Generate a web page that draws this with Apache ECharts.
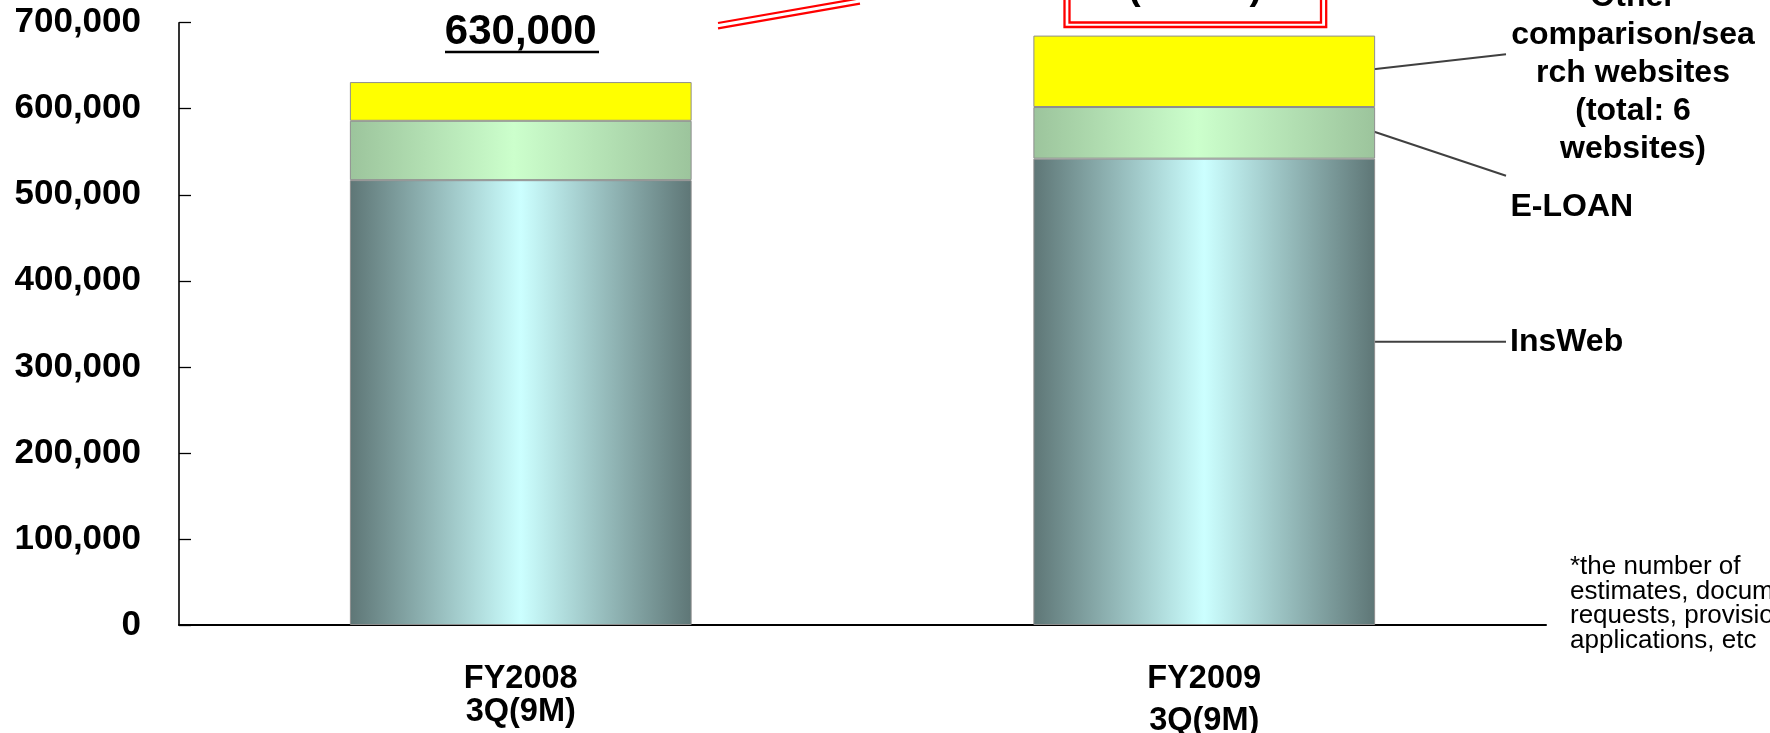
<!DOCTYPE html>
<html><head><meta charset="utf-8">
<script src="https://cdn.jsdelivr.net/npm/echarts@6/dist/echarts.min.js"></script>
<style>html,body{margin:0;padding:0;background:#fff}#c{width:1770px;height:733px}</style>
</head><body><div id="c"></div>
<script>
// ---- data ----
const categoryYears = ['FY2008', 'FY2009'];
const categoryPeriods = ['3Q(9M)', '3Q(9M)'];
const insWeb = [517000, 542000];
const eLoan = [69000, 60000];
const others = [45000, 83000];
const yMin = 0, yMax = 700000, yInterval = 100000;
const seriesNames = ['InsWeb', 'E-LOAN', 'Other comparison/search websites (total: 6 websites)'];
const otherLabelLines = ['Other', 'comparison/sea', 'rch websites', '(total: 6', 'websites)'];
const growthLabel = '(+8.7%)';
const footnoteLines = ['*the number of', 'estimates, documents', 'requests, provisional', 'applications, etc'];

const FONT = "'Liberation Sans', Arial, sans-serif";
const chart = echarts.init(document.getElementById('c'), null, {renderer: 'canvas'});

function fmt(v) { return v.toLocaleString('en-US'); }
const totals = insWeb.map((v, i) => v + eLoan[i] + others[i]);

const gradIns = new echarts.graphic.LinearGradient(0, 0, 1, 0, [
  {offset: 0, color: '#5e7676'}, {offset: 0.5, color: '#ccffff'}, {offset: 1, color: '#5e7676'}
]);
const gradE = new echarts.graphic.LinearGradient(0, 0, 1, 0, [
  {offset: 0, color: '#9cc49c'}, {offset: 0.48, color: '#ccffcc'}, {offset: 1, color: '#9cc49c'}
]);

const option = {
  animation: false,
  backgroundColor: '#fff',
  grid: {left: 179, right: 224, top: 22.7, bottom: 108, containLabel: false, outerBoundsMode: 'none'},
  xAxis: {
    type: 'category',
    data: categoryYears,
    axisLine: {lineStyle: {color: '#000', width: 2}},
    axisTick: {inside: true, length: 12, lineStyle: {color: '#000', width: 1.3}},
    axisLabel: {
      margin: 38,
      formatter: (v, i) => '{y|' + v + '}\n{' + (i === 0 ? 'p' : 'q') + '|' + categoryPeriods[i] + '}',
      rich: {
        y: {fontFamily: FONT, fontSize: 32.5, fontWeight: 'bold', color: '#000', lineHeight: 33},
        p: {fontFamily: FONT, fontSize: 32.5, fontWeight: 'bold', color: '#000', lineHeight: 32.4},
        q: {fontFamily: FONT, fontSize: 32.5, fontWeight: 'bold', color: '#000', lineHeight: 50.4}
      }
    }
  },
  yAxis: {
    type: 'value', min: yMin, max: yMax, interval: yInterval,
    axisLine: {show: true, lineStyle: {color: '#000', width: 1.6}},
    axisTick: {show: true, inside: true, length: 12, lineStyle: {color: '#000', width: 1.3}},
    splitLine: {show: false},
    axisLabel: {margin: 38, fontFamily: FONT, fontSize: 35, fontWeight: 'bold', color: '#000', formatter: v => fmt(v)}
  },
  series: [
    {name: seriesNames[0], type: 'bar', stack: 't', barWidth: '50%', data: insWeb,
     itemStyle: {color: gradIns, borderColor: '#8e8e8e', borderWidth: 1}},
    {name: seriesNames[1], type: 'bar', stack: 't', data: eLoan,
     itemStyle: {color: gradE, borderColor: '#8e8e8e', borderWidth: 1}},
    {name: seriesNames[2], type: 'bar', stack: 't',
     data: others.map((v, i) => i === 0 ? {value: v, label: {show: true}} : v),
     itemStyle: {color: '#ffff00', borderColor: '#8e8e8e', borderWidth: 1},
     label: {show: false, position: 'top', distance: 29, fontFamily: FONT, fontSize: 42, fontWeight: 'bold',
       color: '#000', lineHeight: 42,
       formatter: p => fmt(Math.round(totals[p.dataIndex] / 10000) * 10000)}}
  ],
  graphic: [
    // underline of total label
    {type: 'line', shape: {x1: 445, y1: 52, x2: 599, y2: 52}, style: {stroke: '#000', lineWidth: 2.5}},
    // red arrow (double line)
    {type: 'line', shape: {x1: 718, y1: 23, x2: 860, y2: -1.7}, style: {stroke: '#ff0000', lineWidth: 2.2}},
    {type: 'line', shape: {x1: 718, y1: 28.3, x2: 860, y2: 3.6}, style: {stroke: '#ff0000', lineWidth: 2.2}},
    // red double box
    {type: 'rect', shape: {x: 1064.5, y: -40, width: 261.7, height: 67}, style: {fill: '#fff', stroke: '#ff0000', lineWidth: 2.3}},
    {type: 'rect', shape: {x: 1069.5, y: -40, width: 251.5, height: 62.5}, style: {fill: 'none', stroke: '#ff0000', lineWidth: 2.3}},
    {type: 'text', x: 1195, y: -11, style: {text: growthLabel, fontFamily: FONT, fontSize: 38, fontWeight: 'bold', fill: '#000', align: 'center', verticalAlign: 'middle'}},
    // leader lines
    {type: 'line', shape: {x1: 1369, y1: 69.7, x2: 1506, y2: 54.3}, style: {stroke: '#404040', lineWidth: 2}},
    {type: 'line', shape: {x1: 1369, y1: 130, x2: 1506, y2: 175.7}, style: {stroke: '#404040', lineWidth: 2}},
    {type: 'line', shape: {x1: 1369, y1: 341.7, x2: 1506, y2: 341.7}, style: {stroke: '#404040', lineWidth: 2}},
    // callout labels
    {type: 'text', x: 1633, y: -22, style: {text: otherLabelLines.join('\n'), fontFamily: FONT, fontSize: 32, fontWeight: 'bold', fill: '#000', align: 'center', verticalAlign: 'top', lineHeight: 38}},
    {type: 'text', x: 1510.5, y: 206.7, style: {text: seriesNames[1], fontFamily: FONT, fontSize: 32, fontWeight: 'bold', fill: '#000', align: 'left', verticalAlign: 'middle'}},
    {type: 'text', x: 1510, y: 342, style: {text: seriesNames[0], fontFamily: FONT, fontSize: 32, fontWeight: 'bold', fill: '#000', align: 'left', verticalAlign: 'middle'}},
    // footnote
    {type: 'text', x: 1570, y: 554.4, style: {text: footnoteLines.join('\n'), fontFamily: FONT, fontSize: 26, fill: '#000', align: 'left', verticalAlign: 'top', lineHeight: 24.7}}
  ]
};
chart.setOption(option);
</script>
</body></html>
